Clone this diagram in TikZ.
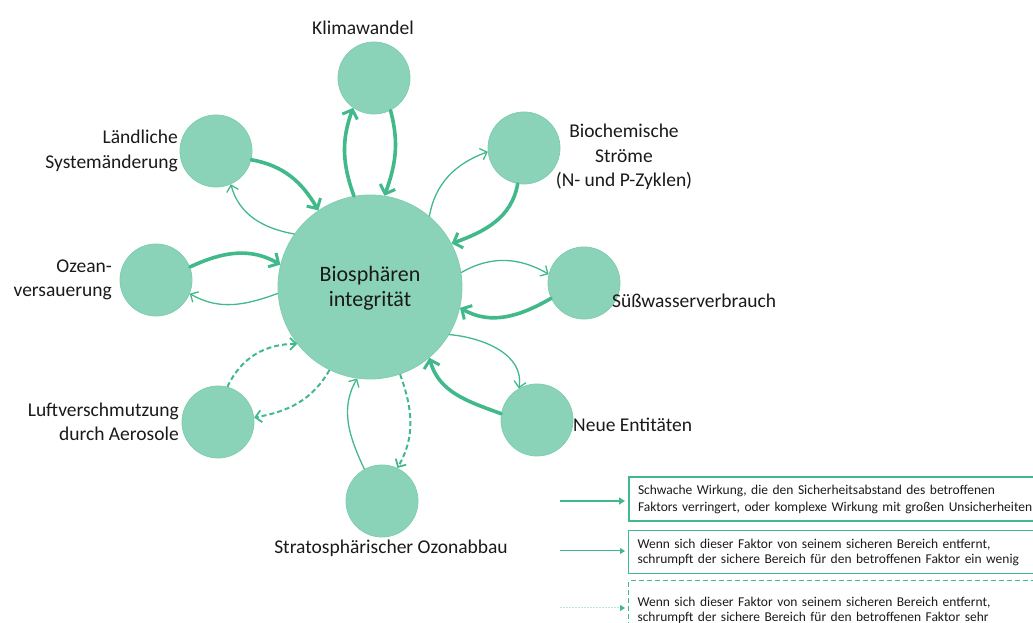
\documentclass[tikz,border=0pt]{standalone}
\usepackage{fontspec}
\setmainfont{Carlito}
\usetikzlibrary{arrows.meta}
\definecolor{fillg}{HTML}{8BD3B8}
\definecolor{edgeg}{HTML}{80CEB1}
\definecolor{arrg}{HTML}{41B98A}
\definecolor{lightg}{HTML}{BDE6D5}
\definecolor{txt}{HTML}{1A1A1A}
\tikzset{
  circ/.style={circle,fill=fillg,draw=edgeg,line width=0.8pt,minimum size=#1,inner sep=0pt},
  lab/.style={font=\fontsize{19.5}{24.5}\selectfont,text=txt,inner sep=0pt},
  thickarr/.style={draw=arrg,line width=3.6pt,line cap=round,line join=round,
     -{Straight Barb[length=7.5pt,width=16pt,line width=3pt]}},
  thinarr/.style={draw=arrg,line width=1.3pt,line cap=round,
     -{Straight Barb[length=6pt,width=12pt,line width=1.3pt]}},
  dasharr/.style={draw=arrg,line width=2pt,dash pattern=on 5pt off 3pt,
     -{Straight Barb[length=6pt,width=12pt,line width=1.8pt,sep=0pt]}},
  legbox/.style={draw=arrg,text=txt,font=\fontsize{13.5}{14.5}\selectfont,
     text width=420pt,align=left,inner xsep=9pt,anchor=west},
}
\begin{document}
\begin{tikzpicture}[x=1pt,y=1pt]
\useasboundingbox (0,0) rectangle (1033,623);
\clip (0,0) rectangle (1033,623);
% circles
\node[circ=184pt] (bio) at (370,336) {};
\node[lab,align=center,font=\fontsize{22}{25}\selectfont] (biot) at (370,335) {Biosphären\\integrität};
\node[circ=72pt] (klima) at (374,545) {};
\node[circ=72pt] (land) at (216,472) {};
\node[circ=72pt] (bioch) at (524,475) {};
\node[circ=72pt] (suess) at (584,340) {};
\node[circ=72pt] (neue) at (537,203) {};
\node[circ=72pt] (strato) at (382,122) {};
\node[circ=72pt] (luft) at (218,201) {};
\node[circ=72pt] (ozean) at (156,343) {};
% labels
\node[lab] (klimat) at (363,595) {Klimawandel};
\node[lab,align=right,anchor=east] (landt) at (178,472) {Ländliche\\Systemänderung};
\node[lab,align=center] (biocht) at (624,466) {Biochemische\\Ströme\\(N- und P-Zyklen)};
\node[lab,anchor=west] (suesst) at (612,322) {Süßwasserverbrauch};
\node[lab,anchor=west] (neuet) at (573,198) {Neue Entitäten};
\node[lab] (stratot) at (391,75) {Stratosphärischer Ozonabbau};
\node[lab,align=right,anchor=east] (luftt) at (179,201) {Luftverschmutzung\\durch Aerosole};
\node[lab,align=right,anchor=east] (ozeant) at (112,343) {Ozean-\\versauerung};
% connectors
% Klimawandel
\draw[thickarr] (bio.100) to[out=110,in=250] (klima.235);
\draw[thickarr] (klima.297) to[out=-75,in=70] (bio.81);
% Laendliche
\draw[thickarr] (land.-14) to[out=-10,in=120] (bio.124);
\draw[thinarr] (bio.145) to[out=170,in=-75] (land.294);
% Ozean
\draw[thickarr] (ozean.21) to[out=25,in=150] (bio.166);
\draw[thinarr] (bio.184) to[out=200,in=-30] (ozean.338);
% Luft
\draw[dasharr] (luft.75) to[out=65,in=180] (bio.218);
\draw[dasharr] (bio.244) to[out=240,in=10] (luft.7);
% Strato
\draw[thinarr] (strato.119) to[out=115,in=240] (bio.262);
\draw[dasharr] (bio.289) to[out=-70,in=60] (strato.65);
% Neue
\draw[thickarr] (neue.170) to[out=160,in=285] (bio.310);
\draw[thinarr] (bio.329) to[out=-5,in=80] (neue.120);
% Suess
\draw[thinarr] (bio.9) to[out=30,in=150] (suess.166);
\draw[thickarr] (suess.205) to[out=210,in=-30] (bio.347);
% Biochem
\draw[thinarr] (bio.50) to[out=80,in=200] (bioch.186);
\draw[thickarr] (bioch.260) to[out=260,in=20] (bio.28);
% legend
\node[legbox,line width=2pt,minimum height=44pt,font=\fontsize{13.5}{17}\selectfont] (l1) at (628,123.5) {Schwache Wirkung, die den Sicherheitsabstand des betroffenen\\Faktors verringert, oder komplexe Wirkung mit großen Unsicherheiten};
\node[legbox,line width=1pt,minimum height=43pt] (l2) at (628,70.5) {Wenn sich dieser Faktor von seinem sicheren Bereich entfernt,\\schrumpft der sichere Bereich für den betroffenen Faktor ein wenig};
\node[legbox,line width=1pt,dash pattern=on 5pt off 3pt,minimum height=59pt] (l3) at (628,12.5) {Wenn sich dieser Faktor von seinem sicheren Bereich entfernt,\\schrumpft der sichere Bereich für den betroffenen Faktor sehr};
\coordinate (a1) at (560,122);
\coordinate (a2) at (560,72);
\coordinate (a3) at (560,15);
\draw[draw=arrg,line width=2.6pt,-{Triangle[length=6pt,width=7pt]},shorten >=3pt] (a1) -- (a1 -| l1.west);
\draw[draw=arrg,line width=1pt,-{Triangle[length=5pt,width=6pt]},shorten >=3pt] (a2) -- (a2 -| l2.west);
\draw[draw=lightg,line width=1pt,dash pattern=on 1.5pt off 1.5pt,-{Triangle[length=5pt,width=6pt,color=arrg]},shorten >=3pt] (a3) -- (a3 -| l3.west);
\end{tikzpicture}
\end{document}
